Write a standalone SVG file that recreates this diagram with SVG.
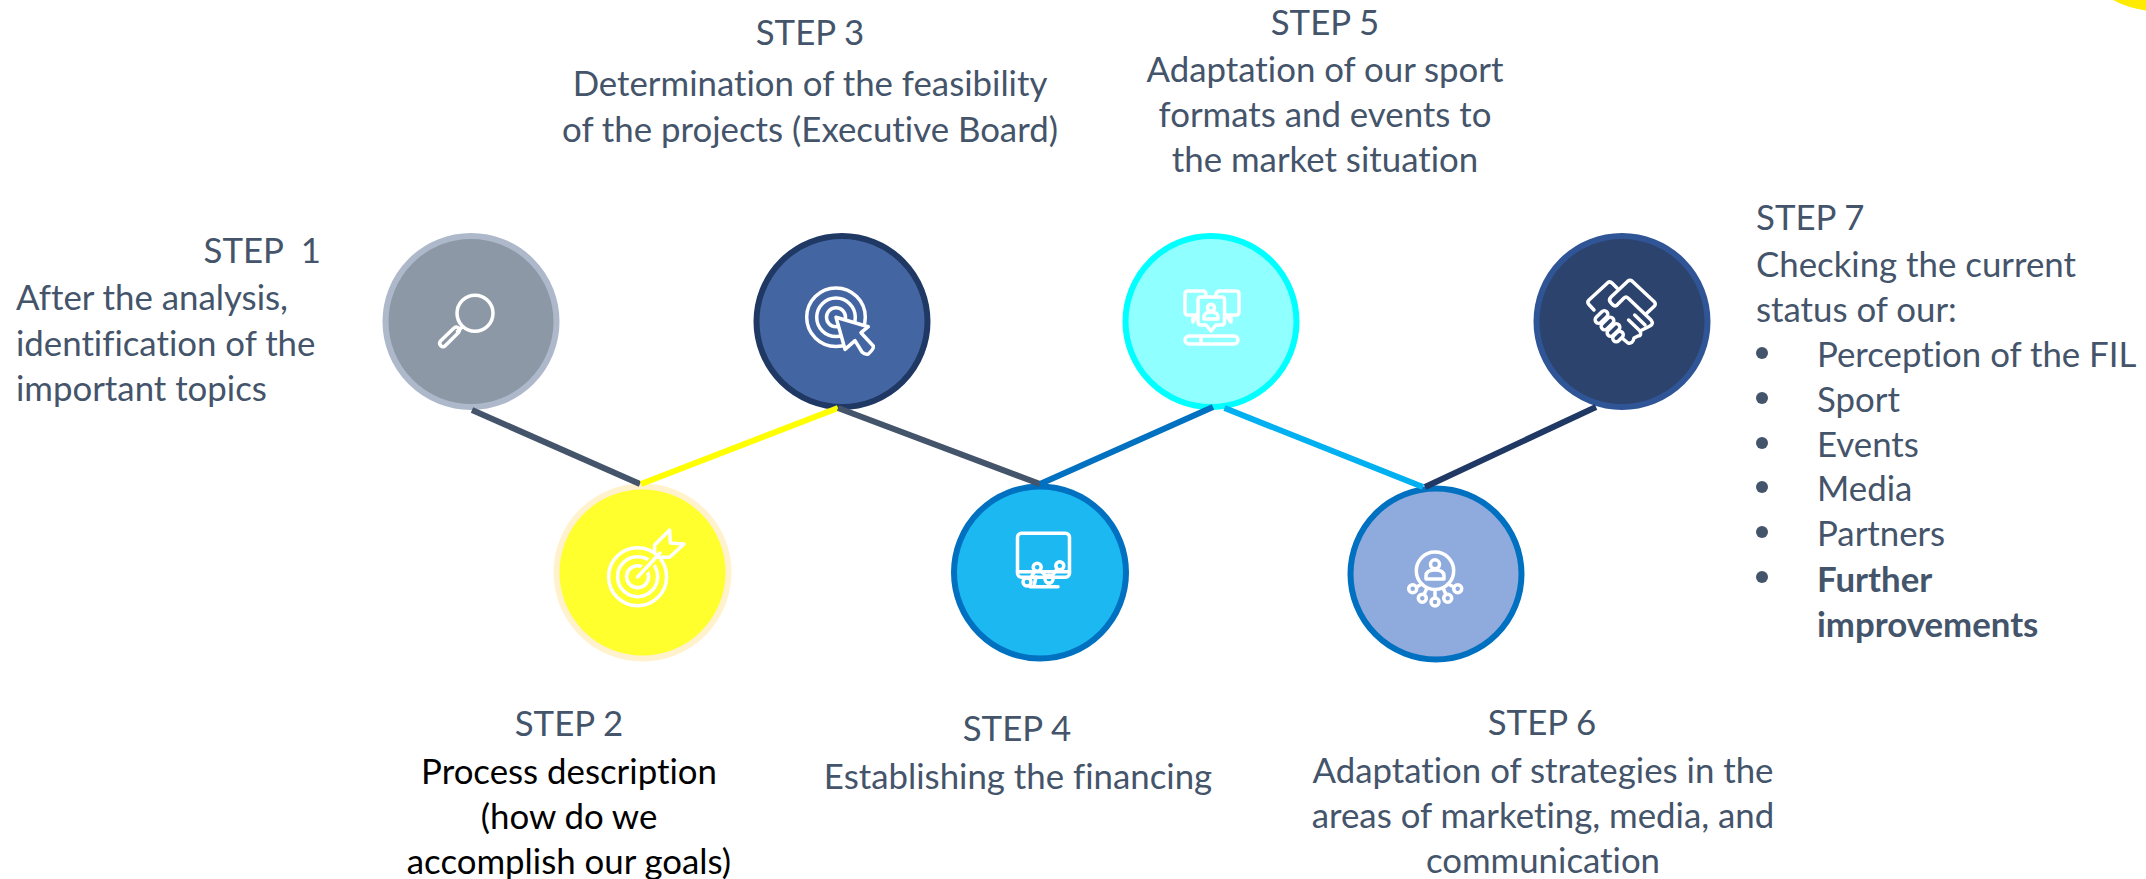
<svg xmlns="http://www.w3.org/2000/svg" width="2146" height="879" viewBox="0 0 2146 879">
<style>
text{font-family:"Lato","Carlito","Liberation Sans",sans-serif;font-size:34.8px;fill:#44546A;font-variant-ligatures:none}
.m{text-anchor:middle}
.k{fill:#000}
.b{font-weight:700}
.n{stroke-width:6}
.i{fill:none;stroke:#fff;stroke-width:3.500;stroke-linecap:round;stroke-linejoin:round}
.c{fill:none;stroke-width:6}
</style>
<rect width="2146" height="879" fill="#fff"/>
<path d="M2113 0Q2128 8 2146 10.500V0Z" fill="#FFEB00"/>
<g id="node1">
<circle class="n" cx="471" cy="321.500" r="85.500" fill="#8C98A5" stroke="#ADB9CA"/>
<g class="i"><circle cx="475" cy="313.300" r="18"/><path d="M462 327L457.500 331.500"/><path d="M457 331.500L444 344.500Q441.500 347 439 344.500Q437 342 439.500 339.500L452.500 327Q455 325 457 327Q459 329 457 331.500Z" transform="translate(1.500 1)"/></g>
<text x="321" y="263" text-anchor="end" xml:space="preserve">STEP  1</text>
<text x="16" y="310">After the analysis,</text>
<text x="16" y="356">identification of the</text>
<text x="16" y="401">important topics</text>
</g>
<g id="node2">
<circle class="n" cx="642.500" cy="572.500" r="86" fill="#FFFF2D" stroke="#FFF2CC"/>
<g class="i"><circle cx="637.600" cy="576.700" r="29"/><circle cx="637.600" cy="576.700" r="20"/><circle cx="637.600" cy="576.700" r="11"/><path d="M637.600 577L660 553" stroke="#FFFF2D" stroke-width="8"/><path d="M637.600 577L660 553"/><path d="M654.600 545L669.600 530L670.400 543L684 544L669.600 557.300H658.600L654.600 553Z"/></g>
<text class="m" x="569" y="736">STEP 2</text>
<text class="m k" x="569" y="784">Process description</text>
<text class="m k" x="569" y="829">(how do we</text>
<text class="m k" x="569" y="874">accomplish our goals)</text>
</g>
<g id="node3">
<circle class="n" cx="842" cy="321.500" r="85.500" fill="#4366A3" stroke="#203864"/>
<g class="i"><circle cx="836" cy="317.300" r="29.300"/><circle cx="836" cy="317.300" r="19.300"/><circle cx="836" cy="317.300" r="9.500"/><path d="M836 317.300L868.300 326.700L861 332.700L873.300 346Q874 349 868.300 354Q865 355 862 352L855 340.700L845 349.300Z" fill="#4366A3"/></g>
<text class="m" x="810" y="45">STEP 3</text>
<text class="m" x="810" y="96">Determination of the feasibility</text>
<text class="m" x="810" y="142">of the projects (Executive Board)</text>
</g>
<g id="node4">
<circle class="n" cx="1040" cy="572.500" r="86" fill="#1CB8F2" stroke="#0070C0"/>
<g class="i"><rect x="1017.500" y="533.300" width="52" height="44" rx="4"/><path d="M1017.500 571.700H1069.500M1030 586.700H1058M1034 586L1036 577M1049 583V586"/><path d="M1030 579L1035 571M1040 570L1046 576M1052 576L1057 569"/><circle cx="1027" cy="582" r="4"/><circle cx="1037.200" cy="567.300" r="4"/><circle cx="1049" cy="579.300" r="4"/><circle cx="1059.800" cy="565.700" r="4"/></g>
<text class="m" x="1017" y="741">STEP 4</text>
<text class="m" x="1018" y="789">Establishing the financing</text>
</g>
<g id="node5">
<circle class="n" cx="1211" cy="321.500" r="85.500" fill="#8FFFFF" stroke="#00FFFF"/>
<g class="i"><path d="M1197 315H1188Q1185 315 1185 312V294Q1185 291 1188 291H1203Q1206 291 1206 295M1197 315L1193 322L1193 317M1216 295Q1216 291 1220 291H1236Q1239 291 1239 294V312Q1239 315 1236 315H1226M1226 315L1231 322V317"/><path d="M1201 297H1221.500Q1224.500 297 1224.500 300V322Q1224.500 325 1221.500 325H1216L1211 331L1206 325H1201Q1198 325 1198 322V300Q1198 297 1201 297Z"/><circle cx="1211" cy="307.700" r="3.500"/><path d="M1204 319V317Q1204 312 1211 312Q1218 312 1218 317V319Z"/><rect x="1185" y="336" width="53" height="8" rx="4"/><path d="M1201 336V344"/></g>
<text class="m" x="1325" y="35">STEP 5</text>
<text class="m" x="1325" y="82">Adaptation of our sport</text>
<text class="m" x="1325" y="127">formats and events to</text>
<text class="m" x="1325" y="172">the market situation</text>
</g>
<g id="node6">
<circle class="n" cx="1436" cy="574" r="85.500" fill="#8FAADC" stroke="#0070C0"/>
<g class="i"><circle cx="1435" cy="570.700" r="18.700"/><circle cx="1435" cy="564.300" r="4.500"/><path d="M1426 579V576Q1426 570 1435 570Q1444 570 1444 576V579Z"/><path d="M1416.500 587L1422 584M1424 594.500L1427 588M1435 598V590M1446 594.500L1443 588M1454 587L1448 584"/><circle cx="1412.700" cy="588.700" r="4"/><circle cx="1422.300" cy="598.300" r="4"/><circle cx="1435" cy="602" r="4"/><circle cx="1447.700" cy="598.300" r="4"/><circle cx="1457.700" cy="588.700" r="4"/></g>
<text class="m" x="1542" y="735">STEP 6</text>
<text class="m" x="1543" y="783">Adaptation of strategies in the</text>
<text class="m" x="1543" y="828">areas of marketing, media, and</text>
<text class="m" x="1543" y="873">communication</text>
</g>
<g id="node7">
<circle class="n" cx="1622" cy="321.500" r="85.500" fill="#2C436D" stroke="#2F5597"/>
<g class="i"><path d="M1594 310L1588.500 304Q1587 302 1589 300L1608 282.500Q1610 281 1612 283L1617 288"/><path d="M1647 313L1654.500 306Q1656 304 1654.500 302L1632 281Q1630 279.500 1628 281L1611 297Q1608 300 1611 303L1613 305Q1616 307 1618 304L1624 298Q1626 296 1628 298L1651 320Q1654 324 1650 326L1640 331Q1642 336 1638 336L1634 338Q1633 344 1628 343L1622 338"/><path d="M1628.600 320L1639 330M1634.700 315L1645 325"/><rect x="1594" y="313.500" width="15" height="7" rx="3.500" transform="rotate(-45 1601.500 317)"/><rect x="1600" y="320" width="15" height="7" rx="3.500" transform="rotate(-45 1607.500 323.500)"/><rect x="1606" y="326.500" width="15" height="7" rx="3.500" transform="rotate(-45 1613.500 330)"/><rect x="1612" y="333" width="12" height="7" rx="3.500" transform="rotate(-45 1618 336.500)"/></g>
<text x="1756" y="230">STEP 7</text>
<text x="1756" y="277">Checking the current</text>
<text x="1756" y="322">status of our:</text>
<circle cx="1762" cy="353" r="6" fill="#44546A"/><text x="1817" y="367">Perception of the FIL</text>
<circle cx="1762" cy="398" r="6" fill="#44546A"/><text x="1817" y="412">Sport</text>
<circle cx="1762" cy="443" r="6" fill="#44546A"/><text x="1817" y="457">Events</text>
<circle cx="1762" cy="487" r="6" fill="#44546A"/><text x="1817" y="501">Media</text>
<circle cx="1762" cy="532" r="6" fill="#44546A"/><text x="1817" y="546">Partners</text>
<circle cx="1762" cy="577" r="6" fill="#44546A"/><text class="b" x="1817" y="592">Further</text>
<text class="b" x="1817" y="637">improvements</text>
</g>
<g id="connectors">
<path class="c" stroke="#44546A" d="M472 410L640 484"/>
<path class="c" stroke="#FFFF00" d="M641 484L838 408"/>
<path class="c" stroke="#44546A" d="M838 408L1040 484"/>
<path class="c" stroke="#0070C0" d="M1040 484L1213 407"/>
<path class="c" stroke="#00B0F0" d="M1224.500 408L1423 487"/>
<path class="c" stroke="#1F3864" d="M1425 487L1596 407"/>
</g>
</svg>
